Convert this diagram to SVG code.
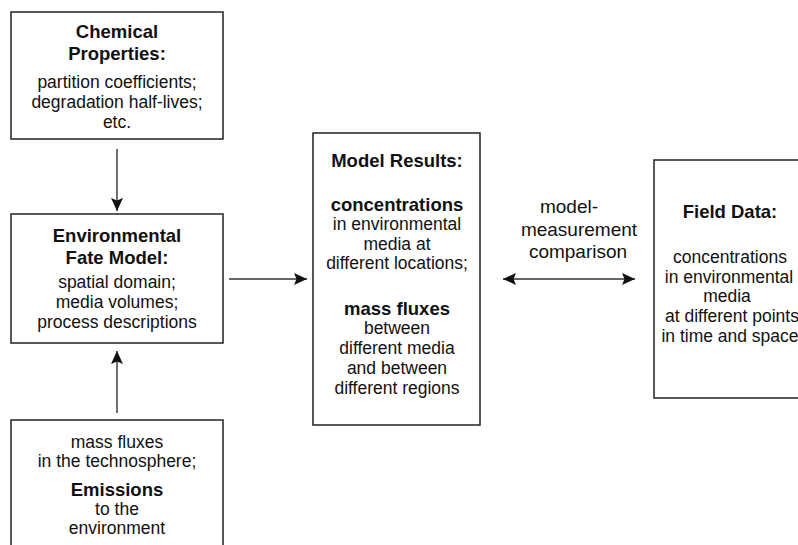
<svg xmlns="http://www.w3.org/2000/svg" width="798" height="545" viewBox="0 0 798 545">
<style>
.box{fill:#fff;stroke:#222;stroke-width:1.5}
text{font-family:"Liberation Sans",Arial,Helvetica,sans-serif;fill:#111;text-anchor:middle}
.n{font-size:17.5px}
.b{font-size:18.5px;font-weight:bold}
.c{font-size:19px}
.conn{stroke:#333;stroke-width:1.4;fill:none}
</style>
<defs>
<marker id="ah" viewBox="0 0 13 12" refX="13" refY="6" markerWidth="13" markerHeight="12" markerUnits="userSpaceOnUse" orient="auto-start-reverse">
<path d="M0,0 L13,6 L0,12 L2.5,6 z" fill="#111"/>
</marker>
</defs>
<rect width="798" height="545" fill="#fff"/>
<g id="connectors">
<line class="conn" x1="117" y1="149" x2="117" y2="211" marker-end="url(#ah)"/>
<line class="conn" x1="117" y1="413" x2="117" y2="351" marker-end="url(#ah)"/>
<line class="conn" x1="229" y1="279" x2="307" y2="279" marker-end="url(#ah)"/>
<line class="conn" x1="503" y1="279" x2="635" y2="279" marker-start="url(#ah)" marker-end="url(#ah)"/>
</g>
<g id="chemical-properties">
<rect class="box" x="11" y="12" width="212" height="127"/>
<text class="b" x="117" y="38">Chemical</text>
<text class="b" x="117" y="60">Properties:</text>
<text class="n" x="117" y="88">partition coefficients;</text>
<text class="n" x="117" y="108">degradation half-lives;</text>
<text class="n" x="117" y="128">etc.</text>
</g>
<g id="fate-model">
<rect class="box" x="11" y="214" width="212" height="129"/>
<text class="b" x="117" y="242">Environmental</text>
<text class="b" x="117" y="264">Fate Model:</text>
<text class="n" x="117" y="288">spatial domain;</text>
<text class="n" x="117" y="308">media volumes;</text>
<text class="n" x="117" y="328">process descriptions</text>
</g>
<g id="emissions">
<rect class="box" x="11" y="420" width="212" height="140"/>
<text class="n" x="117" y="448">mass fluxes</text>
<text class="n" x="117" y="467">in the technosphere;</text>
<text class="b" x="117" y="496">Emissions</text>
<text class="n" x="117" y="515">to the</text>
<text class="n" x="117" y="534">environment</text>
</g>
<g id="model-results">
<rect class="box" x="313" y="133" width="167" height="292"/>
<text class="b" x="397" y="167">Model Results:</text>
<text class="b" x="397" y="211">concentrations</text>
<text class="n" x="397" y="230">in environmental</text>
<text class="n" x="397" y="250">media at</text>
<text class="n" x="397" y="269">different locations;</text>
<text class="b" x="397" y="315">mass fluxes</text>
<text class="n" x="397" y="334">between</text>
<text class="n" x="397" y="354">different media</text>
<text class="n" x="397" y="374">and between</text>
<text class="n" x="397" y="394">different regions</text>
</g>
<g id="comparison-label">
<text class="c" x="569" y="213">model-</text>
<text class="c" x="579" y="236">measurement</text>
<text class="c" x="578" y="258">comparison</text>
</g>
<g id="field-data">
<rect class="box" x="654" y="160" width="160" height="238"/>
<text class="b" x="730" y="218">Field Data:</text>
<text class="n" x="730" y="263">concentrations</text>
<text class="n" x="729" y="283">in environmental</text>
<text class="n" x="727" y="302">media</text>
<text class="n" x="732" y="322">at different points</text>
<text class="n" x="730" y="342">in time and space</text>
</g>
</svg>
